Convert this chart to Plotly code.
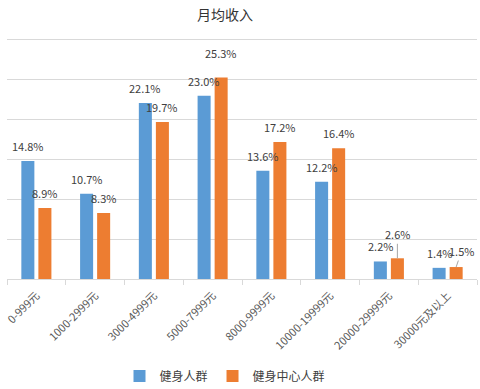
import plotly.graph_objects as go

categories = ["0-999元", "1000-2999元", "3000-4999元", "5000-7999元",
              "8000-9999元", "10000-19999元", "20000-29999元", "30000元及以上"]
series_names = ["健身人群", "健身中心人群"]
fitness_people = [14.8, 10.7, 22.1, 23.0, 13.6, 12.2, 2.2, 1.4]
gym_people = [8.9, 8.3, 19.7, 25.3, 17.2, 16.4, 2.6, 1.5]
title_text = "月均收入"

colors = ["#5B9BD5", "#ED7D31"]
FONT = "Noto Sans CJK SC"

fig = go.Figure()
for name, vals, col in zip(series_names, [fitness_people, gym_people], colors):
    fig.add_trace(go.Bar(x=categories, y=vals, name=name, marker_color=col,
                         marker_line_width=0))

# label styling (special placements for crowded labels)
special = {
    (1, 3): dict(yshift=24),
    (1, 6): dict(arrow=(0, -24)),
    (1, 7): dict(arrow=(5.5, -16)),
}
annotations = []
for si, vals in enumerate([fitness_people, gym_people]):
    xs = -8.5 if si == 0 else 8.5
    for ci, v in enumerate(vals):
        sp = special.get((si, ci), {})
        base = dict(x=categories[ci], y=v, xref="x", yref="y", text=f"{v:.1f}%",
                    font=dict(family=FONT, size=11, color="#404040"), xshift=xs)
        if "arrow" in sp:
            ax, ay = sp["arrow"]
            base.update(showarrow=True, ax=ax, ay=ay, arrowhead=0, arrowwidth=1,
                        arrowcolor="#A6A6A6", standoff=0, startstandoff=0)
        else:
            base.update(showarrow=False, yanchor="middle", yshift=sp.get("yshift", 15))
        annotations.append(base)

fig.update_layout(
    width=480, height=389,
    margin=dict(l=7, r=3, t=40, b=110, autoexpand=False),
    paper_bgcolor="white", plot_bgcolor="white",
    barmode="group", bargap=0.42, bargroupgap=0.235,
    title=dict(text=title_text, x=225 / 480, xref="container", xanchor="center",
               y=1 - 15 / 389, yref="container", yanchor="middle",
               font=dict(family=FONT, size=14, color="#333333")),
    font=dict(family=FONT, color="#595959"),
    showlegend=True,
    legend=dict(orientation="h", x=225 / 480, xanchor="center", xref="container",
                y=1 - 376 / 389, yref="container", yanchor="middle",
                font=dict(family=FONT, size=12, color="#404040"),
                itemwidth=30, traceorder="normal"),
    annotations=annotations,
)
fig.update_xaxes(showline=True, mirror=True, linecolor="#D9D9D9", linewidth=1,
                 ticks="outside", tickson="boundaries", ticklen=5, tickcolor="#D9D9D9",
                 tickangle=-45, ticklabelstandoff=5,
                 tickfont=dict(family=FONT, size=11, color="#595959"),
                 showgrid=False)
fig.update_yaxes(range=[0, 30], tickvals=[5, 10, 15, 20, 25, 30], showticklabels=False,
                 showgrid=True, gridcolor="#D9D9D9", gridwidth=1, zeroline=False,
                 showline=False)

fig.write_html("out.html", config={"displayModeBar": False},
               post_script="document.body.style.margin='0';document.body.style.overflow='hidden';")
